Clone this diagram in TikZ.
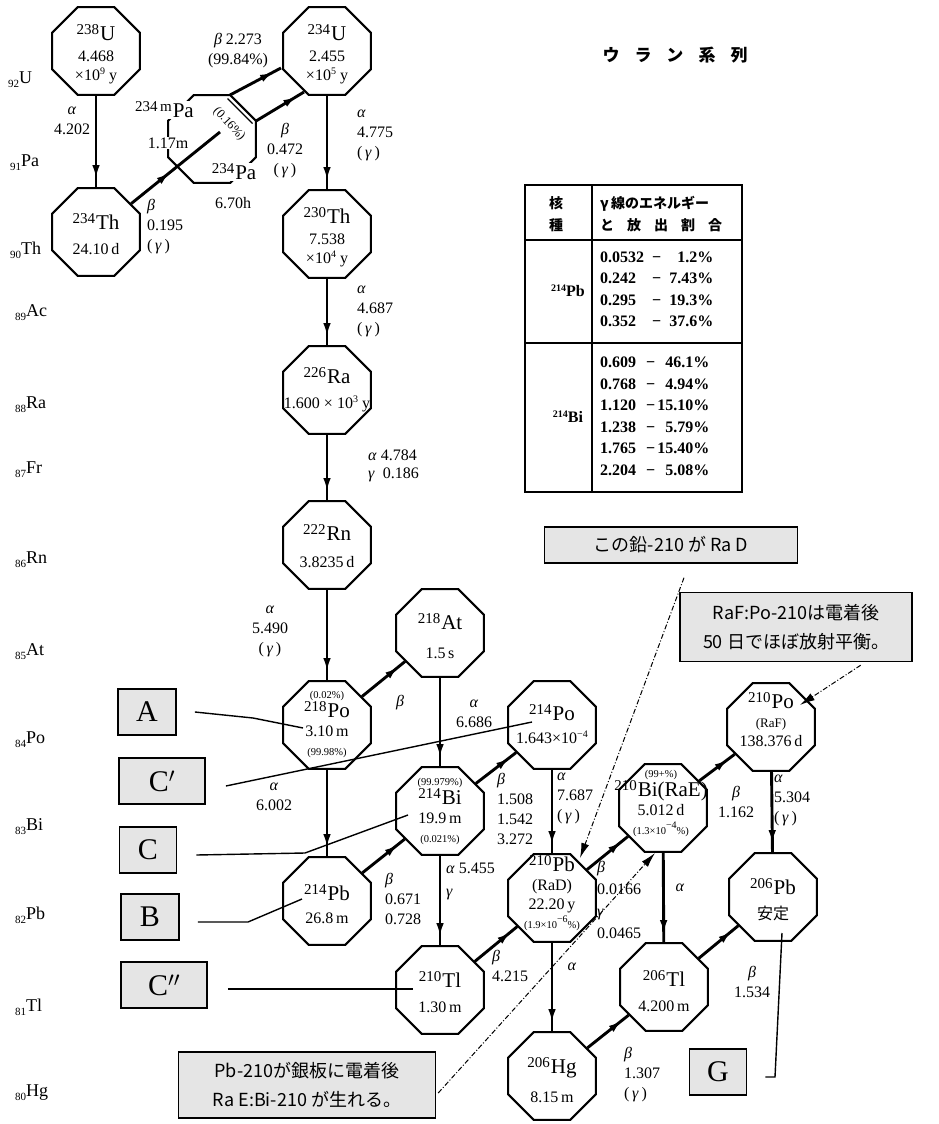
\documentclass[tikz,border=0pt]{standalone}
\usepackage{fontspec}
\setmainfont{Liberation Serif}
\newfontfamily\jp{Noto Sans CJK JP}
\usetikzlibrary{shapes.geometric,arrows.meta,decorations.markings,calc}
\definecolor{boxgray}{gray}{0.9}
\newcommand\nucl[2]{{\fontsize{15}{15}\selectfont\raisebox{6pt}{#1}}\kern1pt{\fontsize{21}{21}\selectfont #2}}
\newcommand\pw[1]{\raisebox{6pt}{\fontsize{10}{10}\selectfont #1}}
\newcommand\zlab[2]{{\fontsize{11}{11}\selectfont\raisebox{-4pt}{#1}}{\fontsize{18}{18}\selectfont #2}}
\newcommand\smallpc{\fontsize{10.5}{12}\selectfont}
\newcommand\xa{\textit{α}}
\newcommand\xb{\textit{β}}
\newcommand\xg{\textit{γ}}
\begin{document}
\begin{tikzpicture}[x=1pt,y=-1pt,
 oct/.style={regular polygon, regular polygon sides=8, draw, line width=2.1pt, minimum size=95pt, inner sep=0pt},
 otxt/.style={align=center, inner sep=0pt, font=\fontsize{16}{19}\selectfont},
 lbl/.style={align=left, inner sep=0pt, anchor=west, font=\fontsize{16}{20}\selectfont},
 lblc/.style={align=center, inner sep=0pt, font=\fontsize{16}{20}\selectfont},
 decay/.style={line width=2.9pt, postaction={decorate}, decoration={markings, mark=at position #1 with {\arrow{Latex[length=14pt,width=7.5pt]}}}},
 decay/.default=-8pt,
 abox/.style={draw, line width=1.8pt, fill=boxgray, minimum height=46pt, inner sep=0pt, font=\fontsize{30}{30}\selectfont},
 lead/.style={line width=1.4pt},
 note/.style={draw, line width=1.4pt, fill=boxgray, align=center, inner sep=0pt, font=\jp\fontsize{18}{29}\selectfont},
 callout/.style={line width=1pt, dash pattern=on 5pt off 2pt on 1pt off 2pt, -{Latex[length=15pt,width=8pt]}},
 zl/.style={anchor=west, inner sep=0pt},
 wlab/.style={fill=white, inner sep=1pt}
]
\useasboundingbox (0,0) rectangle (938,1124);

% title
\node[font=\jp\bfseries\fontsize{17}{17}\selectfont] (title) at (675,55) {ウ\hspace{15pt}ラ\hspace{15pt}ン\hspace{15pt}系\hspace{15pt}列};

% element row labels
\node[zl] (z92) at (8,80) {\zlab{92}{U}};
\node[zl] (z91) at (10,163) {\zlab{91}{Pa}};
\node[zl] (z90) at (10,250) {\zlab{90}{Th}};
\node[zl] (z89) at (15,313) {\zlab{89}{Ac}};
\node[zl] (z88) at (15,405) {\zlab{88}{Ra}};
\node[zl] (z87) at (15,470) {\zlab{87}{Fr}};
\node[zl] (z86) at (15,560) {\zlab{86}{Rn}};
\node[zl] (z85) at (15,652) {\zlab{85}{At}};
\node[zl] (z84) at (15,740) {\zlab{84}{Po}};
\node[zl] (z83) at (15,827) {\zlab{83}{Bi}};
\node[zl] (z82) at (15,915) {\zlab{82}{Pb}};
\node[zl] (z81) at (15,1007) {\zlab{81}{Tl}};
\node[zl] (z80) at (15,1093) {\zlab{80}{Hg}};

% octagons
\node[oct] (U238) at (96,51) {};
\node[oct] (U234) at (327,51) {};
\node[oct] (Th234) at (96,232) {};
\node[oct] (Pa) at (212,139) {};
\node[oct] (Th230) at (327,234) {};
\node[oct] (Ra226) at (327,390) {};
\node[oct] (Rn222) at (327,545) {};
\node[oct] (At218) at (440,633) {};
\node[oct] (Po218) at (327,725) {};
\node[oct] (Bi214) at (440,811) {};
\node[oct] (Pb214) at (327,901) {};
\node[oct] (Po214) at (552,725) {};
\node[oct] (Pb210) at (552,898) {};
\node[oct] (Tl210) at (440,990) {};
\node[oct] (Bi210) at (663,808) {};
\node[oct] (Po210) at (771,727) {};
\node[oct] (Tl206) at (664,987) {};
\node[oct] (Pb206) at (773,897) {};
\node[oct] (Hg206) at (552,1076) {};

% octagon texts
\node[otxt] (U238t) at (96,54) {\nucl{238}{U}\\[2pt]4.468\\×10\pw{9} y};
\node[otxt] (U234t) at (327,54) {\nucl{234}{U}\\[2pt]2.455\\×10\pw{5} y};
\node[otxt] (Th234t) at (96,234) {\nucl{234}{Th}\\[6pt]24.10\,d};
\node[otxt] (Th230t) at (327,237) {\nucl{230}{Th}\\[2pt]7.538\\×10\pw{4} y};
\node[otxt] (Ra226t) at (327,390) {\nucl{226}{Ra}\\[6pt]1.600 × 10\pw{3} y};
\node[otxt] (Rn222t) at (327,546) {\nucl{222}{Rn}\\[8pt]3.8235\,d};
\node[otxt] (At218t) at (440,636) {\nucl{218}{At}\\[10pt]1.5\,s};
\node[otxt] (Po218t) at (327,724) {{\smallpc(0.02\%)}\\\nucl{218}{Po}\\3.10\,m\\{\smallpc(99.98\%)}};
\node[otxt] (Bi214t) at (440,811) {{\smallpc(99.979\%)}\\\nucl{214}{Bi}\\19.9\,m\\{\smallpc(0.021\%)}};
\node[otxt] (Pb214t) at (327,904) {\nucl{214}{Pb}\\[4pt]26.8\,m};
\node[otxt] (Po214t) at (552,724) {\nucl{214}{Po}\\[4pt]1.643×10\pw{−4}};
\node[otxt] (Pb210t) at (552,893) {\nucl{210}{Pb}\\(RaD)\\22.20\,y\\{\smallpc(1.9×10\pw{−6}\%)}};
\node[otxt] (Bi210t) at (661,803) {{\smallpc(99+\%)}\\\nucl{210}{Bi(RaE)}\\5.012\,d\\{\smallpc(1.3×10\pw{−4}\%)}};
\node[otxt] (Po210t) at (771,720) {\nucl{210}{Po}\\{\fontsize{13}{16}\selectfont(RaF)}\\138.376\,d};
\node[otxt] (Tl210t) at (440,992) {\nucl{210}{Tl}\\[6pt]1.30\,m};
\node[otxt] (Tl206t) at (664,991) {\nucl{206}{Tl}\\[6pt]4.200\,m};
\node[otxt] (Pb206t) at (773,900) {\nucl{206}{Pb}\\[6pt]{\jp 安定}};
\node[otxt] (Hg206t) at (552,1080) {\nucl{206}{Hg}\\[10pt]8.15\,m};

% Pa region
\node[wlab, anchor=east] (pamt) at (195,110) {\nucl{234\,m}{Pa}};
\node[wlab] (pamh) at (168,143) {\fontsize{16}{16}\selectfont 1.17m};
\node[wlab] (pat) at (234,172) {\nucl{234}{Pa}};
\node[inner sep=0pt, font=\fontsize{16}{16}\selectfont] (pah) at (233,203) {6.70h};
\coordinate (paNE) at (230,95);
\coordinate (paE) at (256,121);
\draw[line width=1.2pt] ($(paNE)+(-2.5,3.5)$) -- ($(paE)+(-3.5,2.5)$);
\node[rotate=-47, inner sep=0pt, font=\fontsize{12.5}{12.5}\selectfont] (pap) at (229,124) {(0.16\%)};
\coordinate (u234a) at (281,68);
\coordinate (u234b) at (304,92);
\coordinate (pain) at (220,132);

% decay arrows
\draw[decay] (U238) -- (Th234);
\draw[decay] (U234) -- (Th230);
\draw[decay=0.44] (Th234) -- (pain);
\draw[decay] (paNE) -- (u234a);
\draw[decay] (paE) -- (u234b);
\draw[decay] (Th230) -- (Ra226);
\draw[decay] (Ra226) -- (Rn222);
\draw[decay] (Rn222) -- (Po218);
\draw[decay] (Po218) -- (At218);
\draw[decay] (Po218) -- (Pb214);
\draw[decay] (At218) -- (Bi214);
\draw[decay] (Pb214) -- (Bi214);
\draw[decay] (Bi214) -- (Po214);
\draw[decay] (Bi214) -- (Tl210);
\draw[decay] (Po214) -- (Pb210);
\draw[decay] (Tl210) -- (Pb210);
\draw[decay] (Pb210) -- (Bi210);
\draw[decay] (Pb210) -- (Hg206);
\draw[decay] (Bi210) -- (Po210);
\draw[decay] (Bi210) -- (Tl206);
\draw[decay] (Po210) -- (Pb206);
\draw[decay] (Tl206) -- (Pb206);
\draw[decay] (Hg206) -- (Tl206);

% decay labels
\node[lblc] (l1) at (72,121) {\xa\\4.202};
\node[lblc] (l2) at (238,51) {\xb\ 2.273\\(99.84\%)};
\node[lblc] (l3) at (285,151) {\xb\\0.472\\(\,\xg\,)};
\node[lbl] (l4) at (147,227) {\xb\\0.195\\(\,\xg\,)};
\node[lbl] (l5) at (357,135) {\xa\\4.775\\(\,\xg\,)};
\node[lbl] (l6) at (357,311) {\xa\\4.687\\(\,\xg\,)};
\node[lbl, font=\fontsize{16}{18}\selectfont] (l7) at (368,466) {\xa\ 4.784\\\xg\ \ 0.186};
\node[lblc] (l8) at (270,631) {\xa\\5.490\\(\,\xg\,)};
\node[lblc] (l9) at (400,703) {\xb};
\node[lblc] (l10) at (474,714) {\xa\\6.686};
\node[lblc] (l11) at (274,797) {\xa\\6.002};
\node[lbl] (l12) at (385,899) {\xb\\0.671\\0.728};
\node[lbl, font=\fontsize{16}{23}\selectfont] (l13) at (446,881) {\xa\ 5.455\\\xg};
\node[lbl] (l14) at (497,809) {\xb\\1.508\\1.542\\3.272};
\node[lbl] (l15) at (557,798) {\xa\\7.687\\(\,\xg\,)};
\node[lbl] (l16) at (492,966) {\xb\\4.215};
\node[lbl, font=\fontsize{16}{22}\selectfont] (l17) at (597,900) {\xb\\0.0166\\\xg\\0.0465};
\node[lblc] (l18) at (680,888) {\xa};
\node[lblc] (l19) at (736,802) {\xb\\1.162};
\node[lbl] (l20) at (774,800) {\xa\\5.304\\(\,\xg\,)};
\node[lblc] (l21) at (752,982) {\xb\\1.534};
\node[lbl] (l22) at (624,1075) {\xb\\1.307\\(\,\xg\,)};
\node[lblc] (l23) at (572,967) {\xa};

% table
\draw[line width=2.2pt] (525,185) rectangle (742,492);
\draw[line width=2pt] (592,185) -- (592,492);
\draw[line width=2pt] (525,240) -- (742,240);
\draw[line width=2pt] (525,343) -- (742,343);
\node[font=\jp\bfseries\fontsize{14}{22}\selectfont, align=center, inner sep=0pt] (th1) at (556,214) {核\\種};
\node[font=\jp\bfseries\fontsize{14}{22}\selectfont, align=left, anchor=west, inner sep=0pt] (th2) at (600,214) {\textit{γ}\,線のエネルギー\\と\hspace{13pt}放\hspace{13pt}出\hspace{13pt}割\hspace{13pt}合};
\node[inner sep=0pt] (tpb) at (568,291) {{\fontsize{10}{10}\selectfont\bfseries\raisebox{5pt}{214}}{\fontsize{16}{16}\selectfont\bfseries Pb}};
\node[inner sep=0pt] (tbi) at (568,417) {{\fontsize{10}{10}\selectfont\bfseries\raisebox{5pt}{214}}{\fontsize{16}{16}\selectfont\bfseries Bi}};
\node[anchor=west, inner sep=0pt, font=\fontsize{16}{21.5}\selectfont\bfseries] (tdpb) at (600,290) {\begin{tabular}{@{}l@{\hspace{8pt}}c@{\hspace{8pt}}r@{}}0.0532 & − & 1.2\%\\0.242 & − & 7.43\%\\0.295 & − & 19.3\%\\0.352 & − & 37.6\%\end{tabular}};
\node[anchor=west, inner sep=0pt, font=\fontsize{16}{21.5}\selectfont\bfseries] (tdbi) at (600,417) {\begin{tabular}{@{}l@{\hspace{10pt}}c@{\hspace{2pt}}r@{}}0.609 & − & 46.1\%\\0.768 & − & 4.94\%\\1.120 & − & 15.10\%\\1.238 & − & 5.79\%\\1.765 & − & 15.40\%\\2.204 & − & 5.08\%\end{tabular}};

% lettered boxes
\node[abox, minimum width=58pt] (A) at (147,712) {A};
\node[abox, minimum width=86pt] (Cp) at (162,781) {C$'$};
\node[abox, minimum width=57pt] (C) at (148,850) {C};
\node[abox, minimum width=58pt] (B) at (150,917) {B};
\node[abox, minimum width=86pt] (Cpp) at (164,985) {C$''$};
\node[abox, minimum width=57pt] (G) at (718,1072) {G};

% leaders
\coordinate (aBend) at (253,718);
\coordinate (aIn) at (303,728);
\draw[lead] ([xshift=18pt]A.east) -- (aBend) -- (aIn);
\coordinate (cpIn) at (532,722);
\draw[lead] ([xshift=20pt,yshift=-5pt]Cp.east) -- (cpIn);
\coordinate (cBend) at (305,853);
\coordinate (cIn) at (408,815);
\draw[lead] ([xshift=19pt,yshift=-5pt]C.east) -- (cBend) -- (cIn);
\coordinate (bBend) at (248,922);
\coordinate (bIn) at (302,899);
\draw[lead] ([xshift=18pt,yshift=-5pt]B.east) -- (bBend) -- (bIn);
\coordinate (cppIn) at (413,989);
\draw[lead] ([xshift=20pt,yshift=-4pt]Cpp.east) -- (cppIn);
\coordinate (gIn) at (782,933);
\coordinate (gBend) at (775,1077);
\draw[lead] (gIn) -- (gBend) -- ([xshift=18pt,yshift=-5pt]G.east);

% notes
\node[note, minimum width=253pt, minimum height=36pt] (n1) at (671,545) {この鉛-210 が Ra D};
\node[note, minimum width=232pt, minimum height=69pt] (n2) at (796,627) {RaF:Po-210は電着後\\50 日でほぼ放射平衡。};
\node[note, minimum width=257pt, minimum height=66pt] (n3) at (307,1085) {Pb-210が銀板に電着後\\Ra E:Bi-210 が生れる。};
\coordinate (pbTip) at (580,858);
\coordinate (poTip) at (800,705);
\coordinate (biTip) at (655,853);
\draw[callout] ($(n1.south)+(13,14)$) -- (pbTip);
\draw[callout] ($(n2.south east)+(-52,3)$) -- (poTip);
\draw[callout] ($(n3.east)+(2,8)$) -- (biTip);
\end{tikzpicture}
\end{document}
